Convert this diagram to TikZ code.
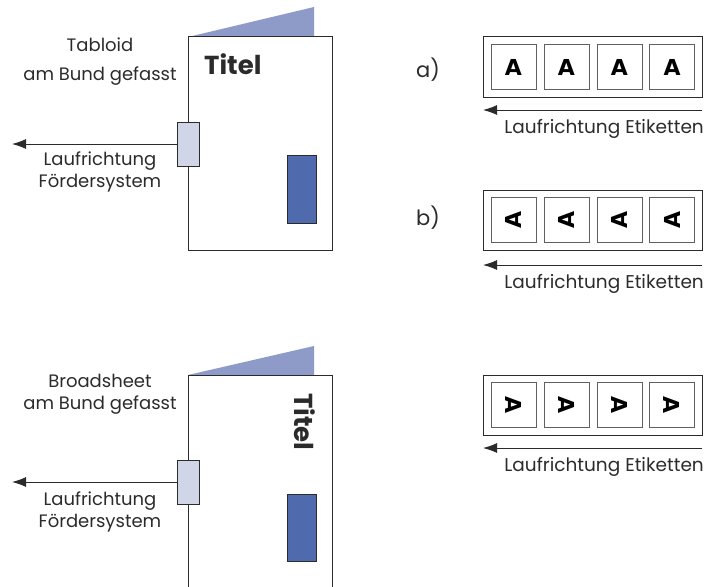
\documentclass[tikz,border=0pt]{standalone}
\usepackage{fontspec}
\usetikzlibrary{arrows.meta}
\setmainfont{Poppins}
\newfontfamily\labelfont{DejaVu Sans}
\definecolor{flapblue}{HTML}{8E9BC9}
\definecolor{tabblue}{HTML}{D0D5E8}
\definecolor{markblue}{HTML}{4F6AAD}
\definecolor{txt}{HTML}{2B2B2B}
\begin{document}
\begin{tikzpicture}[x=1pt,y=-1pt,
  page/.style={draw=txt,line width=1pt,fill=white},
  flapshape/.style={fill=flapblue,draw=none},
  tabbox/.style={draw=txt,line width=1pt,fill=tabblue},
  markbox/.style={draw=txt,line width=1pt,fill=markblue},
  caption/.style={text=txt,font=\fontsize{18}{22}\selectfont,align=center,inner sep=0pt},
  titletext/.style={font=\bfseries\fontsize{26}{26}\selectfont,text=txt,inner sep=0pt},
  strip/.style={draw=txt,line width=1pt,minimum width=219pt,minimum height=60pt,inner sep=0pt},
  etikett/.style={draw=txt!75,line width=1pt,minimum width=45pt,minimum height=45pt,inner sep=0pt,
    font=\labelfont\bfseries\fontsize{22}{22}\selectfont},
  flow/.style={draw=txt,line width=1pt,-{Latex[length=14pt,width=10pt]}}
]
\useasboundingbox (0,0) rectangle (708,586);

% ---------- Tabloid ----------
\fill[flapshape] (188,37) -- (314,7) -- (314,37) -- cycle;
\draw[page] (188,37) rectangle (332,250);
\node[titletext,anchor=west] (t1) at (204,64) {Titel};
\filldraw[markbox] (287,155) rectangle (316,223);
\node[tabbox,minimum width=22pt,minimum height=44pt,inner sep=0pt] (tab1) at (188,144) {};
\coordinate (end1) at (12,144);
\draw[flow] (tab1.west) -- (end1);
\node[caption] (c1) at (100,45) {Tabloid};
\node[caption] (c2) at (100,76) {am Bund gefasst};
\node[caption] (c3) at (100,172) {Laufrichtung\\Fördersystem};

% ---------- Broadsheet ----------
\fill[flapshape] (188,375) -- (314,346) -- (314,375) -- cycle;
\draw[page] (188,590) -- (188,375) -- (332,375) -- (332,590);
\node[titletext,rotate=-90] (t2) at (305,422) {Titel};
\filldraw[markbox] (287,494) rectangle (316,561);
\node[tabbox,minimum width=22pt,minimum height=44pt,inner sep=0pt] (tab2) at (188,482) {};
\coordinate (end2) at (12,482);
\draw[flow] (tab2.west) -- (end2);
\node[caption] (c4) at (100,394) {Broadsheet\\am Bund gefasst};
\node[caption] (c5) at (100,512) {Laufrichtung\\Fördersystem};

% ---------- Etiketten ----------
\foreach \row/\yy/\rot in {a/67/0, b/220/90, c/405/-90}{
  \node[strip] (s\row) at (592.5,\yy) {};
  \foreach \i/\xx in {1/513.5,2/566.5,3/619.5,4/672}{
    \node[etikett] (e\row\i) at (\xx,\yy) {\rotatebox{\rot}{A}};
  }
}
\coordinate (ra) at (702,110);
\coordinate (la) at (483,110);
\draw[flow] (ra) -- (la);
\node[caption,anchor=east,font=\fontsize{18.5}{22}\selectfont] (ta) at (704,129) {Laufrichtung Etiketten};
\coordinate (rb) at (702,265);
\coordinate (lb) at (483,265);
\draw[flow] (rb) -- (lb);
\node[caption,anchor=east,font=\fontsize{18.5}{22}\selectfont] (tb) at (704,284) {Laufrichtung Etiketten};
\coordinate (rc) at (702,448);
\coordinate (lc) at (483,448);
\draw[flow] (rc) -- (lc);
\node[caption,anchor=east,font=\fontsize{18.5}{22}\selectfont] (tc) at (704,467) {Laufrichtung Etiketten};
\node[caption,font=\fontsize{21}{21}\selectfont] (la1) at (428,70) {a)};
\node[caption,font=\fontsize{21}{21}\selectfont] (lb1) at (428,218) {b)};
\end{tikzpicture}
\end{document}
